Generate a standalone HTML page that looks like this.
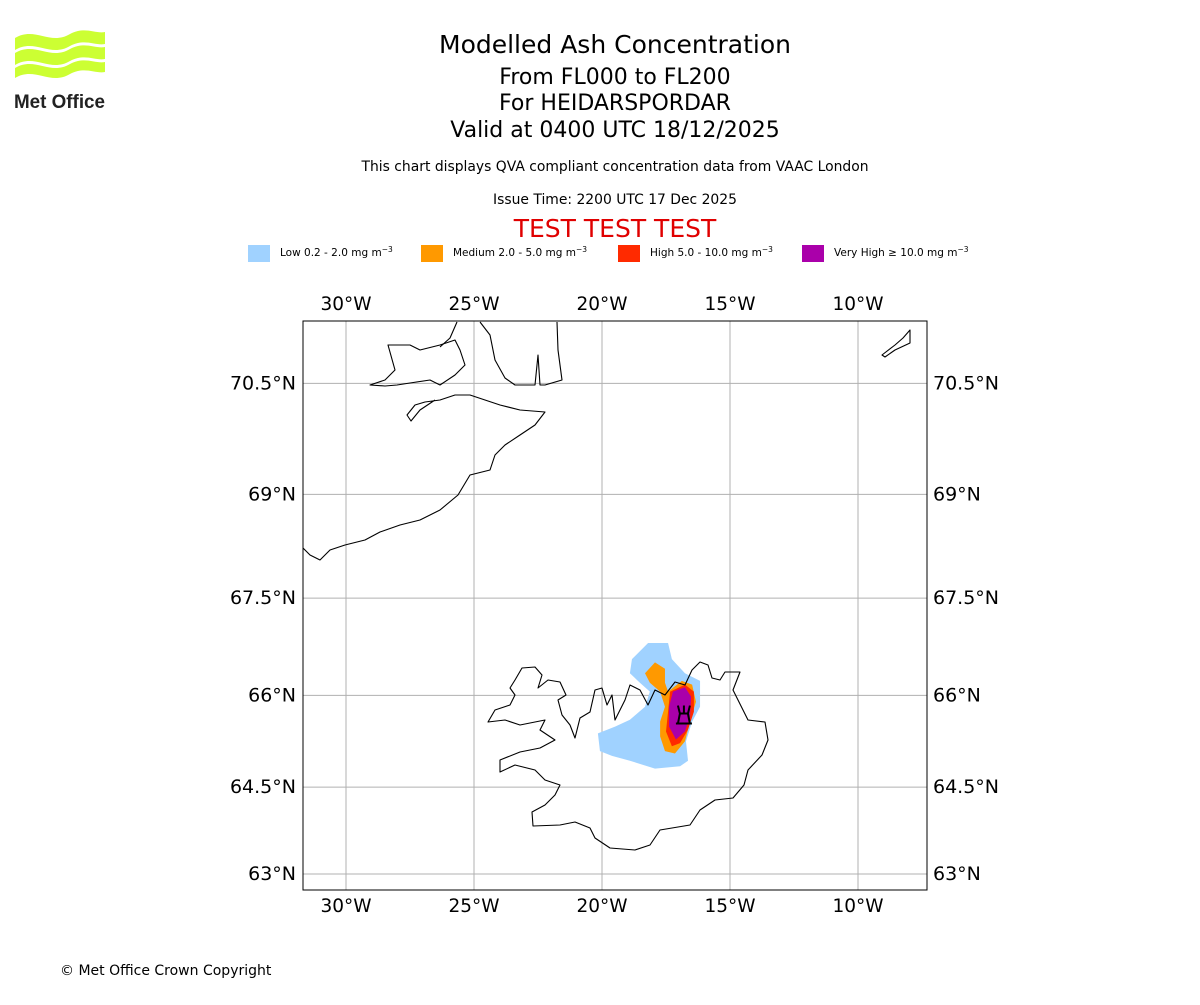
<!DOCTYPE html>
<html><head><meta charset="utf-8"><style>
body{margin:0;background:#fff;}
svg text{font-family:"DejaVu Sans","Liberation Sans",sans-serif;}
</style></head><body>
<svg width="1200" height="1000" viewBox="0 0 1200 1000" xmlns="http://www.w3.org/2000/svg">
<g>
<path d="M15,38 C35,26 50,46 70,34 C85,26 95,34 105,32 L105,44 C95,46 85,38 70,46 C50,58 35,38 15,50Z" fill="#ccff33"/>
<path d="M15,53 C35,41 50,61 70,49 C85,41 95,49 105,47 L105,59 C95,61 85,53 70,61 C50,73 35,53 15,65Z" fill="#ccff33"/>
<path d="M15,68 C35,56 50,76 70,64 C85,56 95,64 105,62 L105,72 C95,74 85,66 70,74 C50,86 35,66 15,78Z" fill="#ccff33"/>
<text x="14" y="108" font-size="19" font-weight="bold" fill="#222" textLength="91" lengthAdjust="spacingAndGlyphs" style="font-family:'Liberation Sans',sans-serif">Met Office</text>
</g>
<g text-anchor="middle">
<text x="615" y="53" font-size="25">Modelled Ash Concentration</text>
<text x="615" y="84" font-size="22">From FL000 to FL200</text>
<text x="615" y="110" font-size="22">For HEIDARSPORDAR</text>
<text x="615" y="137" font-size="22">Valid at 0400 UTC 18/12/2025</text>
<text x="615" y="171" font-size="13.9">This chart displays QVA compliant concentration data from VAAC London</text>
<text x="615" y="204" font-size="13.9">Issue Time: 2200 UTC 17 Dec 2025</text>
<text x="615" y="237" font-size="25" fill="#e00000">TEST TEST TEST</text>
</g>
<g id="legend" font-size="10.5"></g>
<g id="map"></g>
<text x="60" y="975" font-size="14">© Met Office Crown Copyright</text>
</svg>
<script>
const lonTicks=[-30,-25,-20,-15,-10];
const lonLabels=["30°W","25°W","20°W","15°W","10°W"];
const latTicks=[63,64.5,66,67.5,69,70.5];
const latLabels=["63°N","64.5°N","66°N","67.5°N","69°N","70.5°N"];
const legendLabels=["Low 0.2 - 2.0 mg m","Medium 2.0 - 5.0 mg m","High 5.0 - 10.0 mg m","Very High \u2265 10.0 mg m"];
const legendColors=["#a0d2ff","#ff9900","#ff2a00","#aa00aa"];
const plumeLow=[[-18.20,66.82],[-17.42,66.82],[-17.27,66.57],[-16.76,66.35],[-16.17,66.23],[-16.17,65.82],[-16.48,65.58],[-16.72,65.26],[-16.64,64.94],[-16.95,64.85],[-17.93,64.81],[-18.91,64.94],[-19.61,65.02],[-20.08,65.10],[-20.16,65.39],[-19.49,65.50],[-18.91,65.61],[-18.32,65.82],[-18.13,66.06],[-18.52,66.20],[-18.91,66.35],[-18.83,66.57]];
const plumeMedium=[[-17.93,66.52],[-17.54,66.42],[-17.54,66.20],[-17.42,66.06],[-16.88,66.23],[-16.48,66.17],[-16.33,65.90],[-16.56,65.58],[-16.76,65.26],[-17.15,65.06],[-17.54,65.10],[-17.73,65.34],[-17.73,65.58],[-17.54,65.82],[-17.73,66.06],[-18.13,66.20],[-18.32,66.35]];
const plumeHigh=[[-17.34,66.06],[-16.76,66.17],[-16.41,66.06],[-16.41,65.74],[-16.64,65.45],[-16.95,65.23],[-17.27,65.18],[-17.50,65.42],[-17.42,65.74]];
const plumeVeryHigh=[[-17.23,66.06],[-16.76,66.13],[-16.52,65.98],[-16.56,65.66],[-16.76,65.42],[-17.11,65.29],[-17.38,65.50],[-17.38,65.82]];
const volcano=[-16.80,65.71];

const NS="http://www.w3.org/2000/svg";
const X0=303,X1=927,Y0=321,Y1=890;
const PX=25.6,R=PX*180/Math.PI;
function merc(l){return Math.log(Math.tan(Math.PI/4+l*Math.PI/360));}
function xs(lon){return 346+(lon+30)*PX;}
function ys(lat){return 874-R*(merc(lat)-merc(63));}
function mk(t,a,p){const e=document.createElementNS(NS,t);for(const k in a)e.setAttribute(k,a[k]);(p||map).appendChild(e);return e;}
const map=document.getElementById('map');
const leg=document.getElementById('legend');
const lx=[248,421,618,802];
legendLabels.forEach((l,i)=>{
 const r=mk('rect',{x:lx[i],y:245,width:22,height:17,fill:legendColors[i]},leg);
 
 
 const t=mk('text',{x:lx[i]+32,y:256},leg);
 
 
 t.textContent=l;
 const s=document.createElementNS(NS,'tspan');s.setAttribute('dy','-4');s.setAttribute('font-size','7.5');s.textContent='\u22123';t.appendChild(s);
});
lonTicks.forEach((v,i)=>{
 const g=mk('line',{x1:xs(v),x2:xs(v),y1:Y0,y2:Y1,stroke:'#b0b0b0','stroke-width':1});
 
 [310,912].forEach(y=>{const t=mk('text',{x:xs(v),y:y,'font-size':18.5,'text-anchor':'middle'});
 t.textContent=lonLabels[i];});
});
latTicks.forEach((v,i)=>{
 const g=mk('line',{x1:X0,x2:X1,y1:ys(v),y2:ys(v),stroke:'#b0b0b0','stroke-width':1});
 
 const a=mk('text',{x:296,y:ys(v)+6,'font-size':19,'text-anchor':'end'});
 a.textContent=latLabels[i];
 const b=mk('text',{x:933,y:ys(v)+6,'font-size':19});
 b.textContent=latLabels[i];
});
function poly(pts,fill,name){const p=mk('polygon',{points:pts.map(q=>xs(q[0])+','+ys(q[1])).join(' '),fill:fill});
 }
poly(plumeLow,legendColors[0],'plume-low');
poly(plumeMedium,legendColors[1],'plume-medium');
poly(plumeHigh,legendColors[2],'plume-high');
poly(plumeVeryHigh,legendColors[3],'plume-very-high');
const coasts=[
"M522,668 L535,667 L542,675 L538,688 L548,680 L560,682 L566,695 L558,700 L562,715 L570,725 L575,738 L580,718 L590,712 L595,690 L602,688 L607,705 L612,695 L615,720 L625,700 L630,685 L640,690 L648,705 L655,690 L665,695 L675,682 L685,685 L692,670 L700,662 L708,665 L712,678 L720,680 L725,672 L740,672 L733,690 L742,708 L748,720 L765,722 L768,740 L762,755 L748,770 L744,785 L733,798 L715,800 L700,810 L690,825 L660,830 L650,845 L635,850 L610,848 L595,838 L590,828 L575,822 L560,825 L533,826 L532,812 L545,805 L555,795 L560,785 L545,780 L535,770 L515,765 L500,772 L500,760 L520,752 L540,748 L555,740 L540,730 L545,720 L520,725 L505,720 L488,722 L495,710 L510,705 L515,695 L510,688 L515,680 Z",
"M303,548 L310,555 L320,560 L330,550 L345,545 L365,540 L380,532 L400,525 L420,520 L440,510 L458,495 L470,475 L490,470 L495,455 L505,445 L520,435 L535,425 L545,412 L520,410 L500,405 L485,400 L470,395 L455,395 L440,400 L425,402 L415,405 L407,415 L411,421 L420,410 L435,400",
"M370,385 L385,380 L395,370 L388,345 L410,345 L420,350 L440,345 L455,340 L460,350 L465,365 L455,375 L440,385 L430,380 L410,383 L397,385 L385,386 Z",
"M440,347 L450,338 L457,322",
"M480,322 L490,335 L495,360 L505,378 L515,385 L535,385 L538,355 L540,385 L545,385 L562,380 L558,350 L557,322",
"M882,355 L895,345 L903,338 L910,330 L910,343 L895,350 L885,357 Z"];
coasts.forEach(d=>{const p=mk('path',{d:d,fill:'none',stroke:'#000','stroke-width':1.1,'stroke-linejoin':'round'});
 });
const vx=xs(volcano[0]),vy=ys(volcano[1]);
const v=mk('path',{d:`M${vx-8},${vy+10} L${vx+8},${vy+10} M${vx-6},${vy+10} L${vx-4},${vy} L${vx+4},${vy} L${vx+6},${vy+10} M${vx-4},${vy} L${vx-6},${vy-8} M${vx},${vy} L${vx},${vy-8} M${vx+4},${vy} L${vx+6},${vy-8}`,fill:'none',stroke:'#000','stroke-width':2});

const fr=mk('rect',{x:X0,y:Y0,width:X1-X0,height:Y1-Y0,fill:'none',stroke:'#000','stroke-width':1});

</script>
</body></html>
